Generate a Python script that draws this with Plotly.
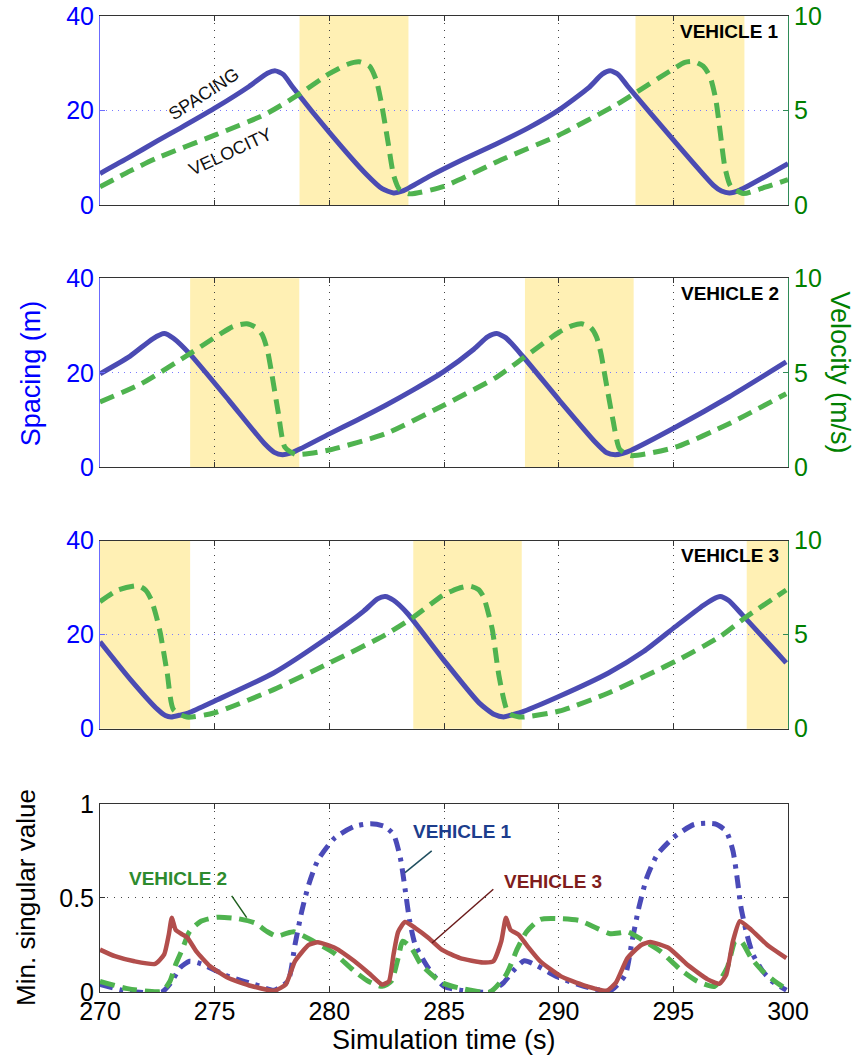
import plotly.graph_objects as go

# ---------------- data ----------------
x_ticks = [270, 275, 280, 285, 290, 295, 300]

# Vehicle 1
v1_sp_t = [270.0, 271.3, 272.5, 273.5, 275.0, 276.5, 277.3, 277.65, 278.0, 278.4, 280.0, 281.6, 282.3, 282.8,
           283.2, 284.4, 285.8, 287.3, 288.7, 290.0, 291.3, 291.9, 292.25, 292.6, 293.0, 295.0, 296.75, 297.1,
           297.45, 297.9, 300.0]
v1_sp = [6.7, 10.2, 13.6, 16.3, 20.5, 25.1, 27.9, 28.4, 27.6, 25.0, 15.4, 6.6, 3.5, 2.6,
         3.0, 6.2, 9.6, 13.0, 16.4, 20.1, 24.8, 27.7, 28.4, 27.6, 25.2, 13.8, 4.2, 3.0,
         2.6, 3.2, 8.8]
v1_vel_t = [270.0, 271.3, 272.5, 275.0, 277.2, 278.6, 280.0, 280.8, 281.3, 281.75, 282.05, 282.3, 282.55, 282.8,
            283.05, 283.5, 285.0, 287.5, 290.0, 292.5, 293.3, 295.0, 295.5, 295.9, 296.3, 296.6, 296.85, 297.05,
            297.25, 297.5, 298.05, 299.0, 300.0]
v1_vel = [0.97, 1.8, 2.5, 3.7, 4.8, 5.8, 6.95, 7.45, 7.58, 7.35, 6.6, 5.2, 3.4, 1.6,
          0.85, 0.6, 1.0, 2.4, 3.7, 5.3, 5.9, 7.2, 7.55, 7.6, 7.35, 6.8, 5.6, 3.8,
          2.0, 1.0, 0.62, 0.95, 1.35]

# Vehicle 2
v2_sp_t = [270.0, 271.3, 272.3, 272.8, 273.2, 273.97, 275.62, 277.18, 277.6, 277.96, 278.4, 278.74, 280.0, 281.2,
           282.44, 283.7, 284.97, 286.3, 286.9, 287.3, 287.7, 288.47, 290.03, 291.59, 292.1, 292.46, 292.8,
           293.14, 295.09, 297.43, 299.92]
v2_sp = [19.8, 23.5, 27.2, 28.3, 27.3, 23.7, 14.2, 5.0, 3.2, 2.7, 3.2, 3.95, 7.1, 10.0,
         13.1, 16.5, 20.2, 25.0, 27.6, 28.3, 27.4, 23.3, 14.2, 5.4, 3.1, 2.7, 3.0,
         3.6, 8.5, 14.9, 22.3]
v2_vel_t = [270.0, 271.8, 273.7, 275.04, 275.8, 276.4, 276.8, 277.08, 277.3, 277.47, 277.76, 278.06, 278.54, 279.9,
            282.44, 284.97, 287.3, 288.47, 290.03, 290.6, 291.0, 291.4, 291.65, 291.85, 291.98, 292.37, 292.66,
            293.14, 295.09, 297.43, 299.92]
v2_vel = [3.46, 4.43, 5.84, 6.9, 7.45, 7.6, 7.4, 7.0, 6.2, 5.1, 3.0, 1.07, 0.69, 0.9,
          1.78, 3.28, 4.78, 5.8, 7.16, 7.5, 7.6, 7.4, 6.9, 6.0, 5.1, 2.49, 0.97,
          0.63, 1.07, 2.31, 3.9]

# Vehicle 3
v3_sp_t = [270.0, 271.34, 272.51, 272.85, 273.1, 273.5, 273.87, 275.0, 277.57, 280.0, 281.5, 282.1, 282.44, 282.8,
           283.41, 284.97, 286.53, 287.2, 287.6, 288.0, 288.47, 290.03, 292.17, 293.7, 295.09, 296.3, 296.75,
           297.04, 297.4, 298.01, 299.92]
v3_sp = [18.5, 10.4, 4.1, 2.8, 2.5, 2.9, 3.4, 5.9, 11.85, 19.6, 25.0, 27.6, 28.1, 27.3,
         24.5, 14.7, 5.5, 3.0, 2.5, 3.0, 3.7, 6.9, 11.85, 16.4, 21.7, 26.2, 27.6,
         28.1, 27.3, 24.2, 14.0]
v3_vel_t = [270.0, 270.78, 271.66, 272.0, 272.24, 272.45, 272.63, 272.93, 273.2, 273.79, 275.0, 277.57, 280.0,
            282.44, 283.6, 284.97, 285.6, 286.14, 286.5, 286.72, 286.92, 287.11, 287.4, 287.8, 288.28, 290.03,
            292.17, 295.09, 297.04, 298.2, 299.92]
v3_vel = [6.75, 7.37, 7.6, 7.35, 6.84, 6.0, 5.08, 2.96, 1.02, 0.62, 0.85, 2.08, 3.49,
          4.99, 5.87, 7.1, 7.45, 7.58, 7.4, 7.02, 6.2, 5.25, 2.79, 0.85, 0.62, 0.94,
          1.9, 3.58, 4.9, 5.96, 7.37]

# shaded intervals (s)
shade_v1 = [(278.7, 283.45), (293.35, 298.1)]
shade_v2 = [(273.93, 278.69), (288.53, 293.27)]
shade_v3 = [(270.0, 273.93), (283.66, 288.39), (298.2, 300.0)]

# Minimum singular values
sv1_t = [270.0, 271.2, 272.7, 273.1, 273.5, 273.9, 274.4, 275.6, 276.75, 277.6, 278.2, 278.5, 278.8, 279.1,
         279.5, 280.25, 281.1, 281.8, 282.4, 282.8, 283.1, 283.3, 283.5, 283.75, 284.3, 285.0, 285.7, 287.0,
         287.6, 288.0, 288.5, 289.05, 289.9, 291.1, 292.25, 292.9, 293.2, 293.5, 293.85, 294.3, 295.0, 295.9,
         296.8, 297.3, 297.6, 297.8, 297.95, 298.2, 298.47, 298.9, 299.35, 299.93]
sv1 = [0.04, 0.004, 0.0, 0.05, 0.13, 0.163, 0.15, 0.083, 0.04, 0.01, 0.06, 0.25, 0.43, 0.57,
       0.70, 0.82, 0.88, 0.894, 0.88, 0.837, 0.71, 0.55, 0.38, 0.25, 0.13, 0.03, 0.01, 0.0,
       0.05, 0.11, 0.166, 0.14, 0.083, 0.03, 0.007, 0.09, 0.27, 0.45, 0.61, 0.73, 0.82, 0.89,
       0.894, 0.855, 0.75, 0.59, 0.45, 0.31, 0.2, 0.11, 0.053, 0.01]

sv2_t = [270.0, 271.2, 272.7, 273.05, 273.3, 273.6, 273.9, 274.4, 275.1, 276.0, 276.75, 277.3, 277.7, 278.1,
         278.45, 278.9, 279.6, 280.2, 281.1, 281.7, 282.3, 282.7, 283.0, 283.2, 283.6, 284.0, 284.9, 285.7,
         287.0, 287.7, 288.2, 288.6, 289.2, 290.1, 290.9, 291.7, 292.25, 292.7, 293.0, 293.6, 294.45, 295.3,
         296.05, 296.8, 297.35, 297.7, 297.95, 298.4, 298.9, 299.5, 299.93]
sv2 = [0.057, 0.018, 0.004, 0.057, 0.146, 0.23, 0.32, 0.376, 0.397, 0.39, 0.367, 0.32, 0.296, 0.31,
       0.32, 0.296, 0.25, 0.207, 0.11, 0.057, 0.03, 0.057, 0.18, 0.27, 0.23, 0.146, 0.05, 0.02,
       0.0, 0.09, 0.23, 0.32, 0.386, 0.39, 0.38, 0.337, 0.31, 0.315, 0.32, 0.28, 0.215, 0.12,
       0.057, 0.03, 0.13, 0.27, 0.27, 0.18, 0.11, 0.05, 0.015]

sv3_t = [270.0, 270.65, 271.5, 272.4, 272.8, 273.0, 273.13, 273.3, 273.6, 273.8, 274.2, 274.8, 275.6, 276.6,
         277.6, 278.1, 278.5, 279.1, 279.5, 280.25, 281.1, 281.8, 282.3, 282.6, 282.8, 283.0, 283.3, 283.75,
         284.3, 284.9, 285.7, 286.7, 287.15, 287.5, 287.7, 287.9, 288.25, 288.6, 289.2, 290.1, 291.1, 292.1,
         292.5, 293.0, 293.6, 294.0, 294.8, 295.6, 296.5, 297.0, 297.3, 297.6, 297.9, 298.4, 299.1, 299.93]
sv3 = [0.225, 0.19, 0.163, 0.149, 0.2, 0.305, 0.394, 0.33, 0.305, 0.29, 0.216, 0.137, 0.074, 0.032,
       0.007, 0.04, 0.163, 0.25, 0.264, 0.234, 0.163, 0.092, 0.04, 0.057, 0.2, 0.32, 0.372, 0.34,
       0.29, 0.225, 0.18, 0.157, 0.163, 0.27, 0.394, 0.33, 0.305, 0.25, 0.163, 0.083, 0.035, 0.007,
       0.05, 0.18, 0.25, 0.266, 0.234, 0.146, 0.067, 0.044, 0.09, 0.27, 0.376, 0.33, 0.25, 0.18]

# ---------------- styling ----------------
FONT = "Liberation Sans, Arial, sans-serif"
SP_COLOR = "#4b4bb3"
VEL_COLOR = "#4fb34f"
SHADE = "#fff0b4"
LEFT_TICK = "#0000ff"
RIGHT_TICK = "#008000"
GRID_DASH = "1px,6px"
W, H = 868, 1055
ML, MR, MT, MB = 100, 80, 2, 63
PW = W - ML - MR

# positions are expressed in reference-picture pixels; plot area spans y = 16 .. 991 there
REF_TOP, REF_BOT = 16.0, 991.0


def py2paper(py):
    return (REF_BOT - py) / (REF_BOT - REF_TOP)


def px2paper(px):
    return (px - ML) / PW


domains = [
    [py2paper(205), py2paper(16)],
    [py2paper(467), py2paper(278)],
    [py2paper(728), py2paper(540)],
    [py2paper(991), py2paper(803)],
]

fig = go.Figure()

panels = [
    (v1_sp_t, v1_sp, v1_vel_t, v1_vel, shade_v1, "VEHICLE 1"),
    (v2_sp_t, v2_sp, v2_vel_t, v2_vel, shade_v2, "VEHICLE 2"),
    (v3_sp_t, v3_sp, v3_vel_t, v3_vel, shade_v3, "VEHICLE 3"),
]

shapes = []
annotations = []
layout = {}

for i, (tsp, sp, tv, vel, shades, label) in enumerate(panels):
    xname = "x" if i == 0 else f"x{i + 1}"
    yl = "y" if i == 0 else f"y{2 * i + 1}"
    yr = f"y{2 * i + 2}"
    xkey = "xaxis" if i == 0 else f"xaxis{i + 1}"
    ylkey = "yaxis" if i == 0 else f"yaxis{2 * i + 1}"
    yrkey = f"yaxis{2 * i + 2}"

    fig.add_trace(go.Scatter(x=tsp, y=sp, mode="lines", xaxis=xname, yaxis=yl,
                             line=dict(color=SP_COLOR, width=5, shape="spline", smoothing=0.6),
                             showlegend=False))
    fig.add_trace(go.Scatter(x=tv, y=vel, mode="lines", xaxis=xname, yaxis=yr,
                             line=dict(color=VEL_COLOR, width=5, dash="15px,8px", shape="spline", smoothing=0.6),
                             showlegend=False))
    for (a, b) in shades:
        shapes.append(dict(type="rect", xref=xname, yref=f"{yl} domain", x0=a, x1=b, y0=0, y1=1,
                           fillcolor=SHADE, line=dict(width=0), layer="below"))

    layout[xkey] = dict(domain=[0, 1], anchor=yl, range=[270, 300], tickvals=x_ticks,
                        ticks="inside", ticklen=5, tickcolor="#333", showline=True, linecolor="#333",
                        linewidth=1, mirror="ticks", showgrid=True, gridcolor="#444", griddash=GRID_DASH,
                        gridwidth=1, zeroline=False, showticklabels=False)
    layout[ylkey] = dict(domain=domains[i], anchor=xname, range=[0, 40], tickvals=[0, 20, 40],
                         ticks="inside", ticklen=5, tickcolor="#6b6bff", showline=True, linecolor="#6b6bff",
                         linewidth=1, showgrid=True, gridcolor="#7a7aff", griddash="1px,5px", gridwidth=1,
                         zeroline=False, tickfont=dict(family=FONT, size=25, color=LEFT_TICK))
    layout[yrkey] = dict(overlaying=yl, side="right", anchor=xname, range=[0, 10], tickvals=[0, 5, 10],
                         ticks="inside", ticklen=5, tickcolor="#2e8b57", showline=True, linecolor="#2e8b57",
                         linewidth=1, showgrid=False, zeroline=False,
                         tickfont=dict(family=FONT, size=25, color=RIGHT_TICK))
    annotations.append(dict(text=f"<b>{label}</b>", xref=f"{xname} domain", yref=f"{yl} domain",
                            x=0.99, y=0.92, xanchor="right", yanchor="middle", showarrow=False,
                            font=dict(family=FONT, size=19, color="#000")))

# bottom panel
fig.add_trace(go.Scatter(x=sv1_t, y=sv1, mode="lines", xaxis="x4", yaxis="y7",
                         line=dict(color="#4a4ab8", width=5, dash="13px,7px,4px,7px", shape="spline", smoothing=0.6),
                         showlegend=False))
fig.add_trace(go.Scatter(x=sv2_t, y=sv2, mode="lines", xaxis="x4", yaxis="y7",
                         line=dict(color=VEL_COLOR, width=5, dash="15px,8px", shape="spline", smoothing=0.6),
                         showlegend=False))
fig.add_trace(go.Scatter(x=sv3_t, y=sv3, mode="lines", xaxis="x4", yaxis="y7",
                         line=dict(color="#b24e4c", width=4.5, shape="spline", smoothing=0.5),
                         showlegend=False))

layout["xaxis4"] = dict(domain=[0, 1], anchor="y7", range=[270, 300], tickvals=x_ticks,
                        ticks="inside", ticklen=5, tickcolor="#333", showline=True, linecolor="#333",
                        linewidth=1, mirror="ticks", showgrid=True, gridcolor="#444", griddash=GRID_DASH,
                        gridwidth=1, zeroline=False, showticklabels=True, ticklabelstandoff=-3,
                        tickfont=dict(family=FONT, size=25, color="#000"))
layout["yaxis7"] = dict(domain=domains[3], anchor="x4", range=[0, 1], tickvals=[0, 0.5, 1],
                        ticktext=["0", "0.5", "1"], ticks="inside", ticklen=5, tickcolor="#333",
                        showline=True, linecolor="#333", linewidth=1, mirror="ticks", showgrid=True,
                        gridcolor="#444", griddash=GRID_DASH, gridwidth=1, zeroline=False,
                        tickfont=dict(family=FONT, size=25, color="#000"))


def t_of(px):
    return 270 + (px - 100) / (PW / 30)


def sv_of(py):
    return (991 - py) / 188


# leader lines of bottom labels
leaders = [((431.7, 850), (405, 871.7), "#1f4e5f"),
           ((231.7, 895), (246.7, 916.7), "#1f5f1f"),
           ((493.3, 888.3), (432, 942), "#6a1a1a")]
for (p0, p1, c) in leaders:
    shapes.append(dict(type="line", xref="x4", yref="y7", x0=t_of(p0[0]), y0=sv_of(p0[1]),
                       x1=t_of(p1[0]), y1=sv_of(p1[1]), line=dict(color=c, width=1.5)))

bottom_labels = [("VEHICLE 1", 462, 831, "#1c3d8c"),
                 ("VEHICLE 2", 178, 878, "#2e8b2e"),
                 ("VEHICLE 3", 553, 881, "#7f1d1d")]
for (txt, px, py, c) in bottom_labels:
    annotations.append(dict(text=f"<b>{txt}</b>", xref="paper", yref="paper", x=px2paper(px), y=py2paper(py),
                            xanchor="center", yanchor="middle", showarrow=False,
                            font=dict(family=FONT, size=19, color=c)))

# curve labels in first panel
annotations.append(dict(text="SPACING", xref="paper", yref="paper", x=px2paper(204), y=py2paper(94),
                        xanchor="center", yanchor="middle", showarrow=False, textangle=-33,
                        font=dict(family=FONT, size=18, color="#111")))
annotations.append(dict(text="VELOCITY", xref="paper", yref="paper", x=px2paper(230), y=py2paper(152),
                        xanchor="center", yanchor="middle", showarrow=False, textangle=-25,
                        font=dict(family=FONT, size=18, color="#111")))

# axis titles
annotations.append(dict(text="Spacing (m)", xref="paper", yref="paper", x=px2paper(31), y=py2paper(373),
                        xanchor="center", yanchor="middle", showarrow=False, textangle=-90,
                        font=dict(family=FONT, size=27, color=LEFT_TICK)))
annotations.append(dict(text="Velocity (m/s)", xref="paper", yref="paper", x=px2paper(840), y=py2paper(372),
                        xanchor="center", yanchor="middle", showarrow=False, textangle=90,
                        font=dict(family=FONT, size=27, color=RIGHT_TICK)))
annotations.append(dict(text="Min. singular value", xref="paper", yref="paper", x=px2paper(26), y=py2paper(897),
                        xanchor="center", yanchor="middle", showarrow=False, textangle=-90,
                        font=dict(family=FONT, size=26, color="#000")))
annotations.append(dict(text="Simulation time (s)", xref="paper", yref="paper", x=px2paper(444), y=py2paper(1039),
                        xanchor="center", yanchor="middle", showarrow=False,
                        font=dict(family=FONT, size=27, color="#000")))

fig.update_layout(width=W, height=H, autosize=False,
                  margin=dict(l=ML, r=MR, t=MT, b=MB, pad=0),
                  paper_bgcolor="white", plot_bgcolor="white",
                  font=dict(family=FONT, size=24, color="#000"),
                  shapes=shapes, annotations=annotations, showlegend=False, **layout)

POST = """
document.documentElement.style.margin = '0';
document.body.style.margin = '0';
document.body.style.overflow = 'hidden';
"""

fig.write_html("out.html", config={"displayModeBar": False}, post_script=POST)
